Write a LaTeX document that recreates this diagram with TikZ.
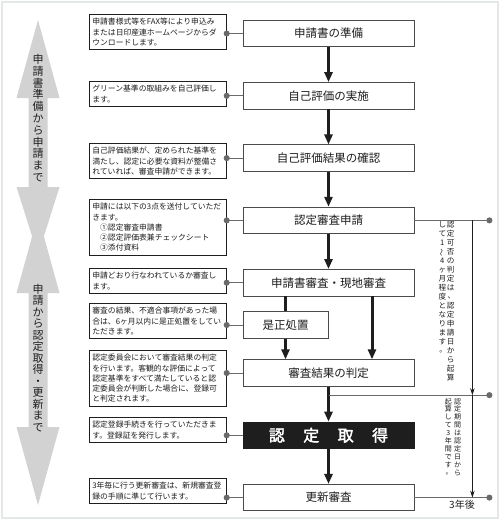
\documentclass[tikz,border=0pt]{standalone}
\usepackage{fontspec}
\setmainfont{Noto Sans CJK JP}
\newfontfamily\heavyfont[FakeBold=2]{Noto Sans CJK JP}
\usetikzlibrary{arrows.meta}
\usetikzlibrary{positioning}
\usepackage{xcolor}
\definecolor{boxline}{HTML}{4A4A4A}
\definecolor{inkgrey}{HTML}{1E1E1E}
\definecolor{linkgrey}{HTML}{6A6A6A}
\definecolor{bandgrey}{HTML}{D2D2D2}
\definecolor{framegrey}{HTML}{E4E8E6}

% vertical (tate) text: one glyph per line
\newcommand\tateend{}
\def\tateloop#1{\ifx#1\tateend\else\hbox to 1.1em{\hss#1\hss}\expandafter\tateloop\fi}
\newcommand\tate[2]{\vtop{\baselineskip=#1\lineskiplimit=-20pt\lineskip=0pt\tateloop#2\tateend}}
\newcommand\vten{\hbox{\kern0.1em\raise0.12em\hbox{、}\kern-0.1em}}
\newcommand\vmaru{\hbox{\kern0.1em\raise0.12em\hbox{。}\kern-0.1em}}
\newcommand\vnami{\rotatebox[origin=c]{90}{～}}

\begin{document}
\begin{tikzpicture}[
        x=1pt, y=-1pt,
        node distance=35pt,
        mainbox/.style={rectangle, draw=boxline, fill=white, line width=0.8pt,
          minimum width=171pt, minimum height=26.5pt, inner sep=2pt,
          align=center, text=inkgrey, font=\fontsize{11.5}{13}\selectfont},
        getbox/.style={mainbox, fill=inkgrey, draw=inkgrey, text=white,
          font=\heavyfont\fontsize{16}{18}\selectfont},
        note/.style={rectangle, draw=inkgrey, fill=white, line width=0.7pt,
          text width=131pt, inner xsep=3pt, inner ysep=3.8pt, align=left,
          anchor=north west, text=inkgrey,
          font=\fontsize{7.8}{10.3}\selectfont},
        flow/.style={-{Triangle[length=10pt, width=8pt]}, line width=3pt, draw=inkgrey},
        stem/.style={line width=3pt, draw=inkgrey},
        thinflow/.style={-{Stealth[length=7pt, width=4.5pt]}, line width=0.7pt, draw=inkgrey},
        link/.style={{Circle[length=6pt]}-, shorten <=-3pt, line width=0.8pt, draw=linkgrey},
        rlink/.style={-{Circle[length=6pt]}, shorten >=-3pt, line width=0.8pt, draw=linkgrey},
        tatelbl/.style={anchor=north, inner sep=0pt, text=inkgrey, font=\fontsize{7.6}{9}\selectfont},
        bandlbl/.style={anchor=north, inner sep=0pt, text=inkgrey, font=\fontsize{11}{12}\selectfont},
      ]

      \useasboundingbox (0,0) rectangle (500,520);
      \draw[framegrey, line width=1.2pt] (2,2) rectangle (498,518);

      % Grey bands on the left
      \fill[bandgrey] (38,20) -- (59.5,98) -- (47.5,98) -- (47.5,187) -- (59.5,187)
        -- (38,255) -- (16.5,187) -- (28.5,187) -- (28.5,98) -- (16.5,98) -- cycle;
      \fill[bandgrey] (38,215) -- (59.5,293) -- (47.5,293) -- (47.5,427) -- (59.5,427)
        -- (38,505) -- (16.5,427) -- (28.5,427) -- (28.5,293) -- (16.5,293) -- cycle;
      \node[bandlbl] (band1) at (38,54) {\tate{11.8pt}{申請書準備から申請まで}};
      \node[bandlbl] (band2) at (38,284) {\tate{11.5pt}{申請から認定取得・更新まで}};

      % Main steps
      \node[mainbox] (prep) at (328.5,33.5) {申請書の準備};
      \node[mainbox, below=of prep] (selfeval) {自己評価の実施};
      \node[mainbox, below=of selfeval] (confirm) {自己評価結果の確認};
      \node[mainbox, below=of confirm] (apply) {認定審査申請};
      \node[mainbox, below=of apply] (review) {申請書審査・現地審査};
      \node[mainbox, minimum width=85pt, anchor=north west]
        (fix) at ([yshift=-15pt]review.south west) {是正処置};
      \node[mainbox, below=63pt of review] (judge) {審査結果の判定};
      \node[getbox, below=of judge] (get) {認\hspace{1.15em}定\hspace{1.15em}取\hspace{1.15em}得};
      \node[mainbox, below=of get] (renew) {更新審査};

      % Notes
      \node[note] (n1) at (89,14) {申請書様式等をFAX等により申込み\\
        または日印産連ホームページからダ\\ウンロードします。};
      \node[note] (n2) at (89,81) {グリーン基準の取組みを自己評価し\\ます。};
      \node[note] (n3) at (89,143) {自己評価結果が、定められた基準を\\
        満たし、認定に必要な資料が整備さ\\れていれば、審査申請ができます。};
      \node[note] (n4) at (89,199) {申請には以下の3点を送付していただ\\きます。\\
        \hspace*{1em}①認定審査申請書\\
        \hspace*{1em}②認定評価表兼チェックシート\\
        \hspace*{1em}③添付資料};
      \node[note] (n5) at (89,268) {申請どおり行なわれているか審査し\\ます。};
      \node[note] (n6) at (89,303) {審査の結果、不適合事項があった場\\
        合は、6ヶ月以内に是正処置をしてい\\ただきます。};
      \node[note] (n7) at (89,350) {認定委員会において審査結果の判定\\
        を行います。客観的な評価によって\\認定基準をすべて満たしていると認\\
        定委員会が判断した場合に、登録可\\と判定されます。};
      \node[note] (n8) at (89,417) {認定登録手続きを行っていただきま\\す。登録証を発行します。};
      \node[note] (n9) at (89,478) {3年毎に行う更新審査は、新規審査登\\録の手順に準じて行います。};

      % Right side
      \coordinate (br) at ([yshift=-8.5pt]judge.south);
      \coordinate (d1) at ([xshift=75pt]apply.east);
      \coordinate (d2) at (d1 |- br);
      \coordinate (d3) at (d1 |- renew.east);
      \coordinate (v1) at ([xshift=58pt]apply.east);
      \node[tatelbl] (span1) at (446.5,221) {\tate{9pt}{して1\vnami 4ヶ月程度となります\vmaru}%
        \tate{9pt}{認定可否の判定は\vten 認定申請日から起算}};
      \node[tatelbl, font=\fontsize{7}{8}\selectfont] (span2) at (453,398)
        {\tate{7.9pt}{起算して3年間です\vmaru}\hspace{1.5pt}%
        \tate{7.9pt}{認定期間は認定日から}};
      \node[text=inkgrey, font=\fontsize{10}{12}\selectfont] (after) at (462,505) {3年後};

      % Arrows
      \draw[flow] (prep) -- (selfeval);
      \draw[flow] (selfeval) -- (confirm);
      \draw[flow] (confirm) -- (apply);
      \draw[flow] (apply) -- (review);
      \draw[stem] (review.south -| fix.north) -- (fix.north);
      \draw[flow] (fix) -- (fix |- judge.north);
      \draw[flow] ([xshift=43.5pt]review.south) -- ([xshift=43.5pt]judge.north);
      \draw[flow] (judge) -- (get);
      \draw[flow] (get) -- (renew);

      % Links from notes
      \draw[link] (n1.east |- prep.west) -- (prep.west);
      \draw[link] (n2.east |- selfeval.west) -- (selfeval.west);
      \draw[link] (n3.east |- confirm.west) -- (confirm.west);
      \draw[link] (n4.east |- apply.west) -- (apply.west);
      \draw[link] (n5.east |- review.west) -- (review.west);
      \draw[link] (n6.east |- fix.west) -- (fix.west);
      \draw[link] (n7.east |- judge.west) -- (judge.west);
      \draw[link] (n8.east |- get.west) -- (get.west);
      \draw[link] (n9.east |- renew.west) -- (renew.west);

      % Periods
      \draw[rlink] (apply.east) -- (d1);
      \draw[rlink] (br) -- (d2);
      \draw[rlink] (renew.east) -- (d3);
      \draw[thinflow] (v1) -- (v1 |- br);
      \draw[thinflow] (v1 |- br) -- (v1 |- renew.east);

\end{tikzpicture}
\end{document}
